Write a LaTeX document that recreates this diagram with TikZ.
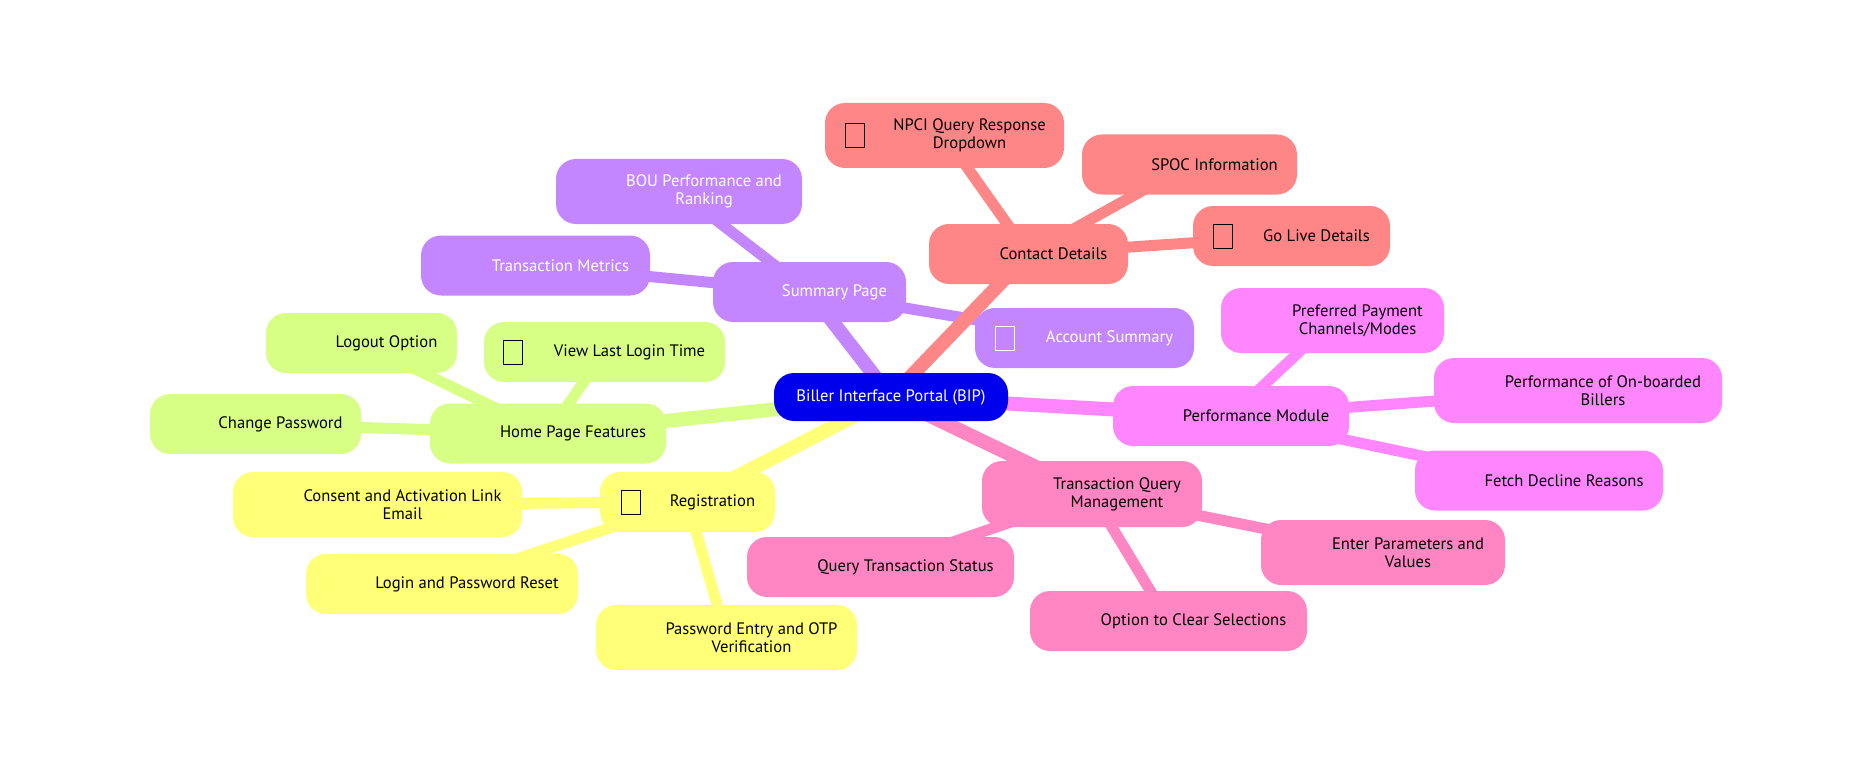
\documentclass[tikz,border=0pt]{standalone}
\usepackage{fontspec}
\setmainfont{PT Sans}
\usetikzlibrary{backgrounds}

\definecolor{rootblue}{HTML}{0000EC}
\definecolor{purpsec}{HTML}{C386FF}
\definecolor{redsec}{HTML}{FF8686}
\definecolor{magsec}{HTML}{FF86FF}
\definecolor{pinksec}{HTML}{FF86C3}
\definecolor{yelsec}{HTML}{FFFF78}
\definecolor{grnsec}{HTML}{D7FF86}

\tikzset{
  topic/.style={rounded corners=20pt, inner sep=0pt, minimum height=60pt},
  twoline/.style={minimum height=65pt},
  topictext/.style={font=\fontsize{16.6}{18.3}\selectfont, align=center, inner sep=0pt},
  tofu/.style={draw, line width=1pt, minimum width=19pt, minimum height=24pt, inner sep=0pt},
  rootlink/.style={line width=14pt},
  link/.style={line width=11pt}
}

\begin{document}
\begin{tikzpicture}[x=1pt, y=-1pt]
  \useasboundingbox (0,0) rectangle (1872,773);

  % Root
  \node[topic, fill=rootblue, minimum width=234pt, minimum height=48pt] (bip) at (891,397) {};
  \node[topictext, text=white] (bipT) at (bip.center) {Biller Interface Portal (BIP)};

  % Summary Page
  \node[topic, fill=purpsec, minimum width=193pt] (sum) at (809.5,292) {};
  \node[topictext, text=white] (sumT) at ([xshift=25pt]sum.center) {Summary Page};
  \node[topic, twoline, fill=purpsec, minimum width=246pt] (bou) at (679,191.5) {};
  \node[topictext, text=white] (bouT) at ([xshift=25pt]bou.center) {BOU Performance and\\Ranking};
  \node[topic, fill=purpsec, minimum width=229pt] (tmet) at (535.5,265.5) {};
  \node[topictext, text=white] (tmetT) at ([xshift=25pt]tmet.center) {Transaction Metrics};
  \node[topic, fill=purpsec, minimum width=219pt] (acc) at (1084.5,338) {};
  \node[topictext, text=white] (accT) at ([xshift=25pt]acc.center) {Account Summary};
  \node[tofu, draw=white] (accI) at ([xshift=30pt]acc.west) {};

  % Contact Details
  \node[topic, fill=redsec, minimum width=199pt] (contact) at (1028.5,254) {};
  \node[topictext] (contactT) at ([xshift=25pt]contact.center) {Contact Details};
  \node[topic, twoline, fill=redsec, minimum width=239pt] (npci) at (944.5,135.5) {};
  \node[topictext] (npciT) at ([xshift=25pt]npci.center) {NPCI Query Response\\Dropdown};
  \node[tofu] (npciI) at ([xshift=30pt]npci.west) {};
  \node[topic, fill=redsec, minimum width=215pt] (spoc) at (1189.5,164.5) {};
  \node[topictext] (spocT) at ([xshift=25pt]spoc.center) {SPOC Information};
  \node[topic, fill=redsec, minimum width=197pt] (golive) at (1291.5,236) {};
  \node[topictext] (goliveT) at ([xshift=25pt]golive.center) {Go Live Details};
  \node[tofu] (goliveI) at ([xshift=30pt]golive.west) {};

  % Performance Module
  \node[topic, fill=magsec, minimum width=236pt] (perf) at (1231,416) {};
  \node[topictext] (perfT) at ([xshift=25pt]perf.center) {Performance Module};
  \node[topic, twoline, fill=magsec, minimum width=223pt] (pref) at (1332.5,320.5) {};
  \node[topictext] (prefT) at ([xshift=25pt]pref.center) {Preferred Payment\\Channels/Modes};
  \node[topic, twoline, fill=magsec, minimum width=288pt] (billers) at (1578,390.5) {};
  \node[topictext] (billersT) at ([xshift=25pt]billers.center) {Performance of On-boarded\\Billers};
  \node[topic, fill=magsec, minimum width=248pt] (fetch) at (1539,480.5) {};
  \node[topictext] (fetchT) at ([xshift=25pt]fetch.center) {Fetch Decline Reasons};

  % Transaction Query Management
  \node[topic, fill=pinksec, minimum width=220pt, minimum height=66pt] (tqm) at (1092,494) {};
  \node[topictext] (tqmT) at ([xshift=25pt]tqm.center) {Transaction Query\\Management};
  \node[topic, fill=pinksec, minimum width=267pt] (qts) at (880.5,567) {};
  \node[topictext] (qtsT) at ([xshift=25pt]qts.center) {Query Transaction Status};
  \node[topic, twoline, fill=pinksec, minimum width=244pt] (params) at (1383,552.5) {};
  \node[topictext] (paramsT) at ([xshift=25pt]params.center) {Enter Parameters and\\Values};
  \node[topic, fill=pinksec, minimum width=277pt] (clear) at (1168.5,621) {};
  \node[topictext] (clearT) at ([xshift=25pt]clear.center) {Option to Clear Selections};

  % Registration
  \node[topic, fill=yelsec, minimum width=175pt] (reg) at (687.5,502) {};
  \node[topictext] (regT) at ([xshift=25pt]reg.center) {Registration};
  \node[tofu] (regI) at ([xshift=31pt]reg.west) {};
  \node[topic, twoline, fill=yelsec, minimum width=289pt] (consent) at (377.5,504.5) {};
  \node[topictext] (consentT) at ([xshift=25pt]consent.center) {Consent and Activation Link\\Email};
  \node[topic, fill=yelsec, minimum width=272pt] (reset) at (442,584) {};
  \node[topictext] (resetT) at ([xshift=25pt]reset.center) {Login and Password Reset};
  \node[topic, twoline, fill=yelsec, minimum width=261pt] (otp) at (726.5,637.5) {};
  \node[topictext] (otpT) at ([xshift=25pt]otp.center) {Password Entry and OTP\\Verification};

  % Home Page Features
  \node[topic, fill=grnsec, minimum width=236pt] (home) at (548,433.5) {};
  \node[topictext] (homeT) at ([xshift=25pt]home.center) {Home Page Features};
  \node[topic, fill=grnsec, minimum width=191pt] (logout) at (361.5,343) {};
  \node[topictext] (logoutT) at ([xshift=25pt]logout.center) {Logout Option};
  \node[topic, fill=grnsec, minimum width=241pt] (lastlogin) at (604.5,352) {};
  \node[topictext] (lastloginT) at ([xshift=25pt]lastlogin.center) {View Last Login Time};
  \node[tofu] (lastloginI) at ([xshift=29pt]lastlogin.west) {};
  \node[topic, fill=grnsec, minimum width=211pt] (chpw) at (255.5,424) {};
  \node[topictext] (chpwT) at ([xshift=25pt]chpw.center) {Change Password};

  % Links, behind the boxes
  \begin{scope}[on background layer]
    \draw[link, yelsec] (reg.center) -- (consent.center);
    \draw[link, yelsec] (reg.center) -- (reset.center);
    \draw[link, yelsec] (reg.center) -- (otp.center);
    \draw[rootlink, yelsec] (bip.center) -- (reg.center);
    \draw[link, grnsec] (home.center) -- (logout.center);
    \draw[link, grnsec] (home.center) -- (lastlogin.center);
    \draw[link, grnsec] (home.center) -- (chpw.center);
    \draw[rootlink, grnsec] (bip.center) -- (home.center);
    \draw[link, purpsec] (sum.center) -- (bou.center);
    \draw[link, purpsec] (sum.center) -- (tmet.center);
    \draw[link, purpsec] (sum.center) -- (acc.center);
    \draw[rootlink, purpsec] (bip.center) -- (sum.center);
    \draw[link, redsec] (contact.center) -- (npci.center);
    \draw[link, redsec] (contact.center) -- (spoc.center);
    \draw[link, redsec] (contact.center) -- (golive.center);
    \draw[rootlink, redsec] (bip.center) -- (contact.center);
    \draw[link, magsec] (perf.center) -- (pref.center);
    \draw[link, magsec] (perf.center) -- (billers.center);
    \draw[link, magsec] (perf.center) -- (fetch.center);
    \draw[rootlink, magsec] (bip.center) -- (perf.center);
    \draw[link, pinksec] (tqm.center) -- (qts.center);
    \draw[link, pinksec] (tqm.center) -- (params.center);
    \draw[link, pinksec] (tqm.center) -- (clear.center);
    \draw[rootlink, pinksec] (bip.center) -- (tqm.center);
  \end{scope}
\end{tikzpicture}
\end{document}
